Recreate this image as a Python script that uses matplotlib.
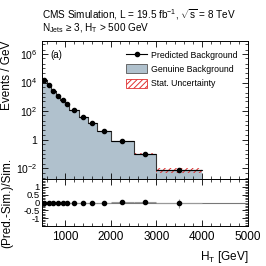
import numpy as np
import matplotlib
matplotlib.use("Agg")
import matplotlib.pyplot as plt
from matplotlib.ticker import (LogLocator, FixedLocator, FixedFormatter,
                               MultipleLocator, NullFormatter)
from matplotlib.patches import Patch
from matplotlib.lines import Line2D

plt.rcParams['font.family'] = ['Liberation Sans', 'DejaVu Sans']
plt.rcParams['mathtext.fontset'] = 'custom'
plt.rcParams['mathtext.rm'] = 'Liberation Sans'
plt.rcParams['mathtext.it'] = 'Liberation Sans'
plt.rcParams['hatch.linewidth'] = 0.7

# bin edges in HT (GeV)
edges = [500, 600, 700, 800, 900, 1000, 1100, 1300, 1500, 1700, 2000, 2500, 3000, 4000]
# genuine background (simulation), events / GeV
genuine = [15000, 6200, 2750, 1230, 610, 320, 120, 37, 14, 3.8, 0.76, 0.100, 0.0075]
# predicted background
predicted = [15500, 6200, 2750, 1230, 610, 320, 121, 37, 14, 3.8, 0.77, 0.104, 0.0072]
# relative stat. uncertainty of simulation
rel_stat = [0.005, 0.006, 0.007, 0.008, 0.01, 0.012, 0.015, 0.02, 0.03, 0.05, 0.10, 0.20, 0.35]
# ratio (Pred.-Sim.)/Sim. and its error
ratio = [-0.01, -0.01, -0.01, -0.01, -0.01, -0.01, -0.005, -0.005, -0.005, -0.01, 0.01, 0.02, -0.05]
ratio_err = [0.01, 0.01, 0.01, 0.01, 0.01, 0.01, 0.015, 0.02, 0.03, 0.04, 0.06, 0.10, 0.30]

edges = np.array(edges, dtype=float)
centers = 0.5 * (edges[:-1] + edges[1:])
halfw = 0.5 * np.diff(edges)
genuine = np.array(genuine)
predicted = np.array(predicted)

fig = plt.figure(figsize=(2.66, 2.66), dpi=100)
ax = fig.add_axes([0.158, 0.327, 0.774, 0.519])
ax2 = fig.add_axes([0.158, 0.150, 0.774, 0.177], sharex=ax)

fill_col = '#b0c1cd'
gen_step = np.append(genuine, genuine[-1])
ax.fill_between(edges, gen_step, 1e-6, step='post', color=fill_col, lw=0)

lo = genuine * (1 - np.array(rel_stat))
hi = genuine * (1 + np.array(rel_stat))
ax.fill_between(edges, np.append(lo, lo[-1]), np.append(hi, hi[-1]), step='post',
                facecolor='none', edgecolor='#e03030', hatch='//////', lw=0)
ax.step(edges, gen_step, where='post', color='#333333', lw=0.8)

ax.errorbar(centers, predicted, xerr=halfw, fmt='o', color='black', ms=3,
            elinewidth=0.8, capsize=0)

ax.set_yscale('log')
ax.set_ylim(1.8e-3, 8e6)
ax.set_xlim(500, 5000)
ax.yaxis.set_major_locator(FixedLocator([1e-2, 1, 1e2, 1e4, 1e6]))
ax.yaxis.set_major_formatter(FixedFormatter(['$10^{-2}$', '1', '$10^{2}$', '$10^{4}$', '$10^{6}$']))
ax.yaxis.set_minor_locator(LogLocator(base=10, subs=(1.0, 2.0, 5.0), numticks=30))
ax.yaxis.set_minor_formatter(NullFormatter())
ax.tick_params(axis='x', labelbottom=False)
ax.tick_params(axis='y', labelsize=7.5)
ax.set_ylabel('Events / GeV', loc='top', fontsize=8.5)
ax.yaxis.set_label_coords(-0.14, 1.0)

ax.text(0.04, 0.90, '(a)', transform=ax.transAxes, fontsize=7, va='center')

handles = [
    Line2D([], [], color='black', marker='o', ms=3, lw=0.8),
    Patch(facecolor=fill_col, edgecolor='#555555', lw=0.6),
    Patch(facecolor='white', edgecolor='#e03030', hatch='//////', lw=0.6),
]
ax.legend(handles, ['Predicted Background', 'Genuine Background', 'Stat. Uncertainty'],
          loc='upper right', bbox_to_anchor=(0.99, 0.99), frameon=False, fontsize=6.3,
          handlelength=2.4, handleheight=1.2, labelspacing=0.55, handletextpad=0.5)

fig.text(0.158, 0.945, 'CMS Simulation, L = 19.5 fb$^{-1}$, $\\sqrt{\\mathrm{s}}$ = 8 TeV',
         fontsize=7.2, va='center')
fig.text(0.158, 0.895, 'N$_{\\mathrm{Jets}}$ ≥ 3, H$_{\\mathrm{T}}$ > 500 GeV',
         fontsize=7.2, va='center')

ax2.axhline(0, color='#777777', lw=0.8)
ax2.errorbar(centers, ratio, xerr=halfw, yerr=ratio_err, fmt='o', color='black',
             ecolor='#999999', ms=3, elinewidth=0.8, capsize=0)
ax2.set_ylim(-1.5, 1.5)
ax2.yaxis.set_major_locator(FixedLocator([-1, -0.5, 0, 0.5, 1]))
ax2.yaxis.set_major_formatter(FixedFormatter(['-1', '-0.5', '0', '0.5', '1']))
ax2.yaxis.set_minor_locator(MultipleLocator(0.1))
ax2.xaxis.set_major_locator(MultipleLocator(1000))
ax2.xaxis.set_minor_locator(MultipleLocator(200))
ax2.tick_params(axis='y', labelsize=6.8, pad=1.5)
ax2.tick_params(axis='x', labelsize=8.5)
ax2.set_xlabel('H$_{\\mathrm{T}}$ [GeV]', loc='right', fontsize=8.5)
ax2.set_ylabel('(Pred.-Sim.)/Sim.', fontsize=8.5)
ax2.yaxis.set_label_coords(-0.14, 0.5)

for a in (ax, ax2):
    a.tick_params(which='both', direction='in', top=True, right=True)
    a.tick_params(which='major', length=4, width=0.6)
    a.tick_params(which='minor', length=2, width=0.5)
    for s in a.spines.values():
        s.set_linewidth(0.7)

fig.savefig('out.png', dpi=100)
